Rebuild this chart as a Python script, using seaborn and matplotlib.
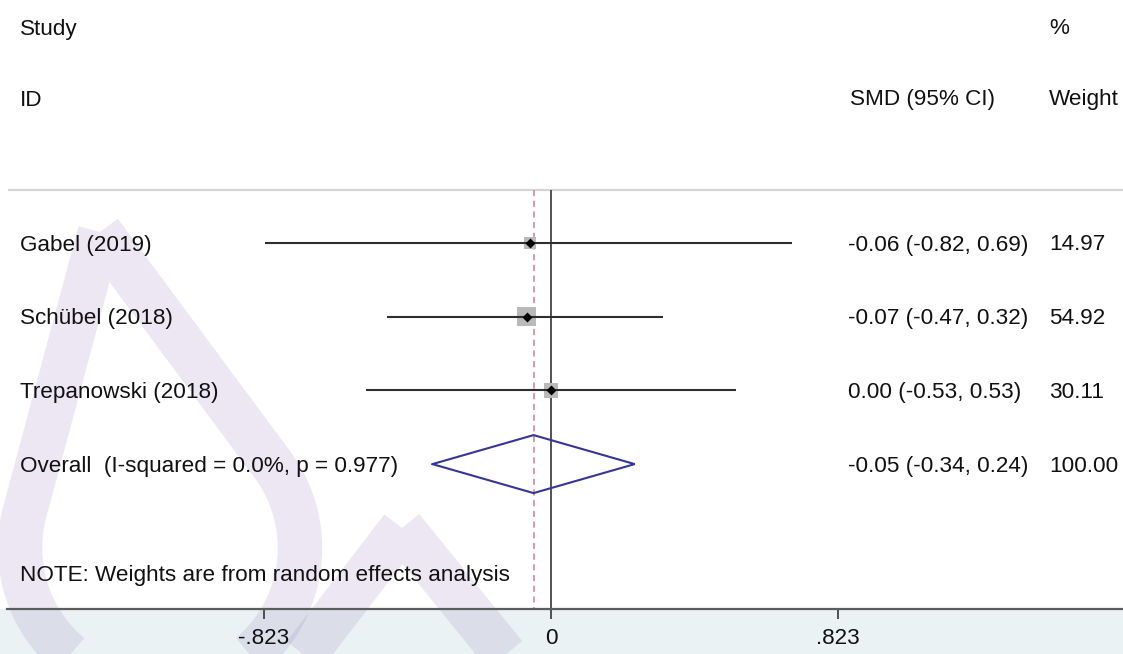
import numpy as np
import pandas as pd
import matplotlib
matplotlib.use("Agg")
import matplotlib.pyplot as plt
import seaborn as sns
from matplotlib.path import Path
from matplotlib.patches import PathPatch, Rectangle

# ---------------- data ----------------
studies = ["Gabel (2019)", "Schübel (2018)", "Trepanowski (2018)"]
smd = [-0.06, -0.07, 0.00]
ci_low = [-0.82, -0.47, -0.53]
ci_high = [0.69, 0.32, 0.53]
weights = [14.97, 54.92, 30.11]

overall_label = "Overall  (I-squared = 0.0%, p = 0.977)"
overall_smd = -0.05
overall_low = -0.34
overall_high = 0.24
overall_weight = 100.00

note_text = "NOTE: Weights are from random effects analysis"
xticks = [-0.823, 0, 0.823]
xtick_labels = ["-.823", "0", ".823"]

# ---------------- style ----------------
sns.set_theme(style="white")
plt.rcParams["font.family"] = ["Liberation Sans", "DejaVu Sans"]
FS = 16.2
TXT = "#111111"

W, H = 1123, 654
AX_BOTTOM = 609          # pixel row of the x axis line
SEP_Y = 190              # header separator
ROW0, STEP = 243, 73.7   # row layout
X0_PX, PX_PER_UNIT = 551, 348.72
TY = 2                   # small text baseline nudge

fig = plt.figure(figsize=(W / 100, H / 100), dpi=100)
fig.patch.set_facecolor("white")

# background / decoration axes in pixel units
bg = fig.add_axes([0, 0, 1, 1], zorder=0)
bg.set_xlim(0, W)
bg.set_ylim(H, 0)
bg.axis("off")
bg.add_patch(Rectangle((0, AX_BOTTOM), W, H - AX_BOTTOM, color="#eaf2f4", zorder=0, lw=0))


def teardrop_pts(apex, center, r, n=160):
    ax_, ay_ = apex
    cx, cy = center
    dx, dy = ax_ - cx, ay_ - cy
    d = np.hypot(dx, dy)
    base = np.arctan2(dy, dx)
    phi = np.arccos(r / d)
    angs = np.linspace(base + phi, base - phi + 2 * np.pi, n)
    pts = np.c_[cx + r * np.cos(angs), cy + r * np.sin(angs)]
    return np.vstack([[apex], pts, [apex]])


# faint watermark
for apex, center, r in [((100, 232), (160, 548), 140), ((402, 528), (405, 770), 150)]:
    pts = teardrop_pts(apex, center, r)
    bg.add_patch(PathPatch(Path(pts), fill=False, edgecolor="#9b83bb", alpha=0.19,
                           lw=32, joinstyle="miter", capstyle="butt", zorder=1))

bg.hlines(SEP_Y, 8, W, color="#d4d4d4", lw=1.6, zorder=2)

# main forest axes
ax = fig.add_axes([7 / W, (H - AX_BOTTOM) / H, 1 - 7 / W, AX_BOTTOM / H], zorder=1)
ax.set_facecolor("none")

rows_y = ROW0 + STEP * np.arange(len(studies) + 1)
df = pd.DataFrame({"study": studies, "smd": smd, "lo": ci_low, "hi": ci_high,
                   "weight": weights, "y": rows_y[:len(studies)]})

ax.vlines(0, SEP_Y, AX_BOTTOM, color="#444444", lw=1.3, zorder=1)
ax.vlines(overall_smd, SEP_Y, AX_BOTTOM, color="#cc8090", lw=1.1,
          linestyles=(0, (4, 3)), zorder=1)

sns.scatterplot(data=df, x="smd", y="y", size="weight", sizes=(66, 190),
                size_norm=(min(weights), max(weights)), marker="s", color="#b9b9b9",
                linewidth=0, legend=False, ax=ax, zorder=2)
ax.hlines(df["y"], df["lo"], df["hi"], color="#2e2e2e", lw=1.5, zorder=3)
sns.scatterplot(data=df, x="smd", y="y", marker="D", s=26, color="black",
                linewidth=0, legend=False, ax=ax, zorder=4)

oy = rows_y[-1]
dh = 29
ax.plot([overall_low, overall_smd, overall_high, overall_smd, overall_low],
        [oy, oy - dh, oy, oy + dh, oy], color="#35359a", lw=1.5, zorder=4,
        solid_joinstyle="miter")

ax.set_xlim((7 - X0_PX) / PX_PER_UNIT, (W - X0_PX) / PX_PER_UNIT)
ax.set_ylim(AX_BOTTOM, 0)
ax.set_xlabel("")
ax.set_ylabel("")
ax.set_yticks([])
ax.set_xticks(xticks)
ax.set_xticklabels(xtick_labels)
for s in ["top", "left", "right"]:
    ax.spines[s].set_visible(False)
ax.spines["bottom"].set_color("#5c5c5c")
ax.spines["bottom"].set_linewidth(1.6)
ax.tick_params(axis="x", direction="out", length=7.5, width=1.3, color="#444444",
               labelsize=FS, labelcolor=TXT, pad=6.5, bottom=True)

# ---------------- text columns ----------------
def put(x, y, s):
    bg.text(x, y + TY, s, fontsize=FS, color=TXT, va="center", ha="left", zorder=5)

put(20, 27, "Study")
put(20, 98, "ID")
put(850, 98, "SMD (95% CI)")
put(1049, 27, "%")
put(1049, 98, "Weight")

for i, (lab, m, lo, hi, w) in enumerate(zip(studies, smd, ci_low, ci_high, weights)):
    put(20, rows_y[i], lab)
    put(848, rows_y[i], f"{m:.2f} ({lo:.2f}, {hi:.2f})")
    put(1049, rows_y[i], f"{w:.2f}")

put(20, oy, overall_label)
put(848, oy, f"{overall_smd:.2f} ({overall_low:.2f}, {overall_high:.2f})")
put(1049, oy, f"{overall_weight:.2f}")
put(20, 574, note_text)

fig.savefig("out.png", dpi=100)
